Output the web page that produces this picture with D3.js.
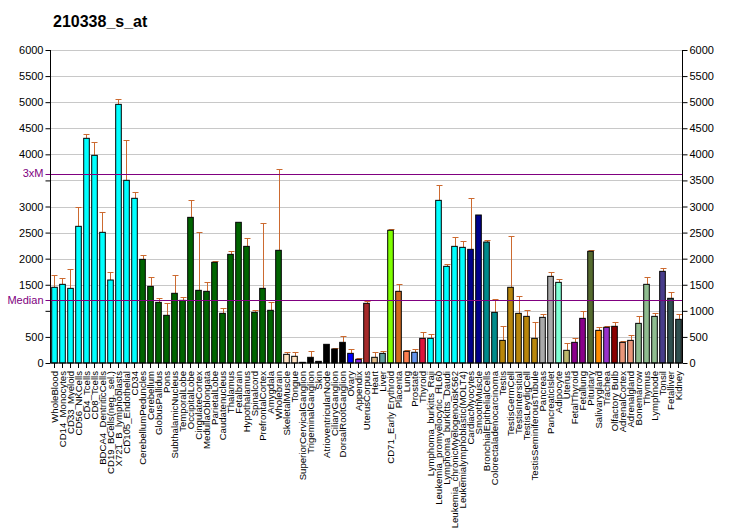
<!DOCTYPE html>
<html lang="en">
<head>
  <meta charset="UTF-8">
  <title>210338_s_at</title>
  <script src="https://d3js.org/d3.v7.min.js"></script>
  <style>
    body { margin: 0; background: #fff; font-family: "Liberation Sans", Arial, sans-serif; }
    .grid line { stroke: #c8c8c8; stroke-width: 1px; }
    .axis path, .axis line { stroke: #000; }
    .axis text { font-size: 11px; fill: #000; font-family: "Liberation Sans", Arial, sans-serif; }
    .xlab { font-size: 9.6px; }
  </style>
</head>
<body>
<svg width="732" height="530"></svg>
<script>
  const tissues = ["WholeBlood","CD14_Monocytes","CD33_Myeloid","CD56_NKCells","CD4_Tcells","CD8_Tcells",
    "BDCA4_DentriticCells","CD19_BCells(neg._sel.)","X721_B_lymphoblasts","CD105_Endothelial","CD34",
    "CerebellumPeduncles","Cerebellum","GlobusPallidus","Pons","SubthalamicNucleus","TemporalLobe",
    "OccipitalLobe","CingulateCortex","MedullaOblongata","ParietalLobe","Caudatenucleus","Thalamus",
    "Fetalbrain","Hypothalamus","Spinalcord","PrefrontalCortex","Amygdala","Wholebrain","SkeletalMuscle",
    "Tongue","SuperiorCervicalGanglion","TrigeminalGanglion","Skin","AtrioventricularNode","CiliaryGanglion",
    "DorsalRootGanglion","Ovary","Appendix","UterusCorpus","Heart","Liver","CD71_Early Erythroid","Placenta",
    "Lung","Prostate","Thyroid","Lymphoma_burkitts_Raji","Leukemia_promyelocytic_HL60","Lymphoma_burkitts_Daudi",
    "Leukemia_chronicMyelogenousK562","Leukemialymphoblastic(MOLT4)","CardiacMyocytes","SmoothMuscle",
    "BronchialEpithelialCells","Colorectaladenocarcinoma","Testis","TestisGermCell","TestisIntersitial",
    "TestisLeydigCell","TestisSeminiferousTubule","Pancreas","PancreaticIslet","Adipocyte","Uterus",
    "FetalThyroid","Fetallung","Pituitary","Salivarygland","Trachea","Olfactory Bulb","AdrenalCortex",
    "Adrenalgland","Bonemarrow","Thymus","Lymphnode","Tonsil","Fetalliver","Kidney"];

  const values = [1451,1508,1431,2620,4307,3981,2505,1591,4958,3502,3157,
    1987,1469,1163,914,1336,1201,2792,1393,1374,1930,952,2083,2697,2236,971,1431,1010,2160,
    166,128,13,109,32,358,268,396,185,70,1144,109,185,2544,1374,224,205,473,
    473,3118,1853,2236,2217,2179,2837,2319,971,434,1451,952,894,473,875,1661,1546,243,
    396,856,2141,626,684,703,396,434,760,1508,894,1757,1240,837];

  const errors = [230,115,365,364,77,249,383,147,96,772,115,
    77,173,77,230,345,58,326,1112,173,19,96,64,0,154,39,1247,153,1553,
    39,77,0,115,0,0,13,115,77,19,51,96,39,19,134,19,57,115,
    77,288,39,174,115,978,0,33,249,269,977,326,116,307,58,77,58,134,
    77,134,19,58,19,77,19,96,134,134,58,58,115,96];

  const median = 1210;
  const yTicks = [0,500,1000,1500,2000,2500,3000,3500,4000,4500,5000,5500,6000];
  const leftHidden = [1000, 3500];

  // colour runs, in bar order
  const colorRuns = [["#00FFFF",11],["#006400",18],["#FFE4C4",2],["#000000",6],["#0000FF",1],["#8A2BE2",1],
    ["#A52A2A",1],["#DEB887",1],["#5F9EA0",1],["#7FFF00",1],["#D2691E",1],["#FF7F50",1],["#6495ED",1],
    ["#DC143C",1],["#00FFFF",5],["#00008B",2],["#008B8B",2],["#B8860B",5],["#A9A9A9",2],["#7FFFD4",1],
    ["#BDB76B",1],["#8B008B",2],["#556B2F",1],["#FF8C00",1],["#9932CC",1],["#8B0000",1],["#E9967A",2],
    ["#8FBC8F",3],["#483D8B",1],["#2F4F4F",2]];
  const colors = colorRuns.flatMap(([c, n]) => d3.range(n).map(() => c));

  const data = tissues.map((t, i) => ({ name: t, value: values[i], err: errors[i], color: colors[i] }));

  const svg = d3.select("svg");
  const plotL = 50.5, plotR = 682.5, plotT = 50, plotB = 363;

  const x = d3.scaleBand().domain(tissues).range([plotL, plotR]).paddingInner(0.3).paddingOuter(0.15);
  const y = d3.scaleLinear().domain([0, 6000]).range([plotB, plotT]);

  svg.append("text")
    .attr("x", 53).attr("y", 27)
    .style("font-size", "16px").style("font-weight", "bold")
    .text("210338_s_at");

  // grid
  svg.append("g").attr("class", "grid")
    .selectAll("line").data(yTicks.slice(1)).join("line")
    .attr("x1", plotL).attr("x2", plotR)
    .attr("y1", d => Math.round(y(d)) + 0.5).attr("y2", d => Math.round(y(d)) + 0.5);

  // error bars
  const eb = svg.append("g").attr("stroke", "#CC6A30").attr("stroke-width", 1);
  data.filter(d => d.err > 0).forEach(d => {
    const cx = Math.round(x(d.name) + x.bandwidth() / 2) + 0.5;
    eb.append("line").attr("x1", cx).attr("x2", cx).attr("y1", y(d.value)).attr("y2", y(d.value + d.err));
    eb.append("line").attr("x1", cx - 3).attr("x2", cx + 3)
      .attr("y1", Math.round(y(d.value + d.err)) + 0.5).attr("y2", Math.round(y(d.value + d.err)) + 0.5);
  });

  // bars
  svg.append("g").selectAll("rect").data(data).join("rect")
    .attr("x", d => x(d.name))
    .attr("width", x.bandwidth())
    .attr("y", d => y(d.value))
    .attr("height", d => plotB - y(d.value))
    .attr("fill", d => d.color)
    .attr("stroke", "#000").attr("stroke-width", 1);

  // reference lines
  [median, median * 3].forEach(v => {
    svg.append("line").attr("x1", plotL - 5).attr("x2", plotR)
      .attr("y1", Math.round(y(v)) + 0.5).attr("y2", Math.round(y(v)) + 0.5)
      .attr("stroke", "#800080").attr("stroke-width", 1.2);
  });

  // left axis
  const yl = svg.append("g").attr("class", "axis").attr("transform", `translate(${plotL},0)`)
    .call(d3.axisLeft(y).tickValues(yTicks).tickSize(5).tickPadding(2)
      .tickFormat(d => leftHidden.includes(d) ? "" : d));
  yl.select(".domain").attr("d", `M0,${plotT}V${plotB}`);
  [["3xM", median * 3], ["Median", median]].forEach(([t, v]) => {
    svg.append("text").attr("x", plotL - 7).attr("y", y(v)).attr("dy", "0.35em")
      .attr("text-anchor", "end").style("font-size", "11px").attr("fill", "#800080").text(t);
  });

  // right axis
  const yr = svg.append("g").attr("class", "axis").attr("transform", `translate(${plotR},0)`)
    .call(d3.axisRight(y).tickValues(yTicks).tickSize(5).tickPadding(2).tickFormat(d3.format("d")));
  yr.select(".domain").attr("d", `M0,${plotT}V${plotB}`);

  // bottom axis
  const xa = svg.append("g").attr("class", "axis").attr("transform", `translate(0,${plotB})`)
    .call(d3.axisBottom(x).tickSize(5).tickFormat(""));
  xa.select(".domain").attr("d", `M${plotL},0H${plotR}`);

  svg.append("g").selectAll("text").data(tissues).join("text")
    .attr("class", "xlab")
    .attr("transform", d => `translate(${x(d) + x.bandwidth() / 2},371) rotate(-90)`)
    .attr("dy", "0.35em")
    .attr("text-anchor", "end")
    .text(d => d);
</script>
</body>
</html>
